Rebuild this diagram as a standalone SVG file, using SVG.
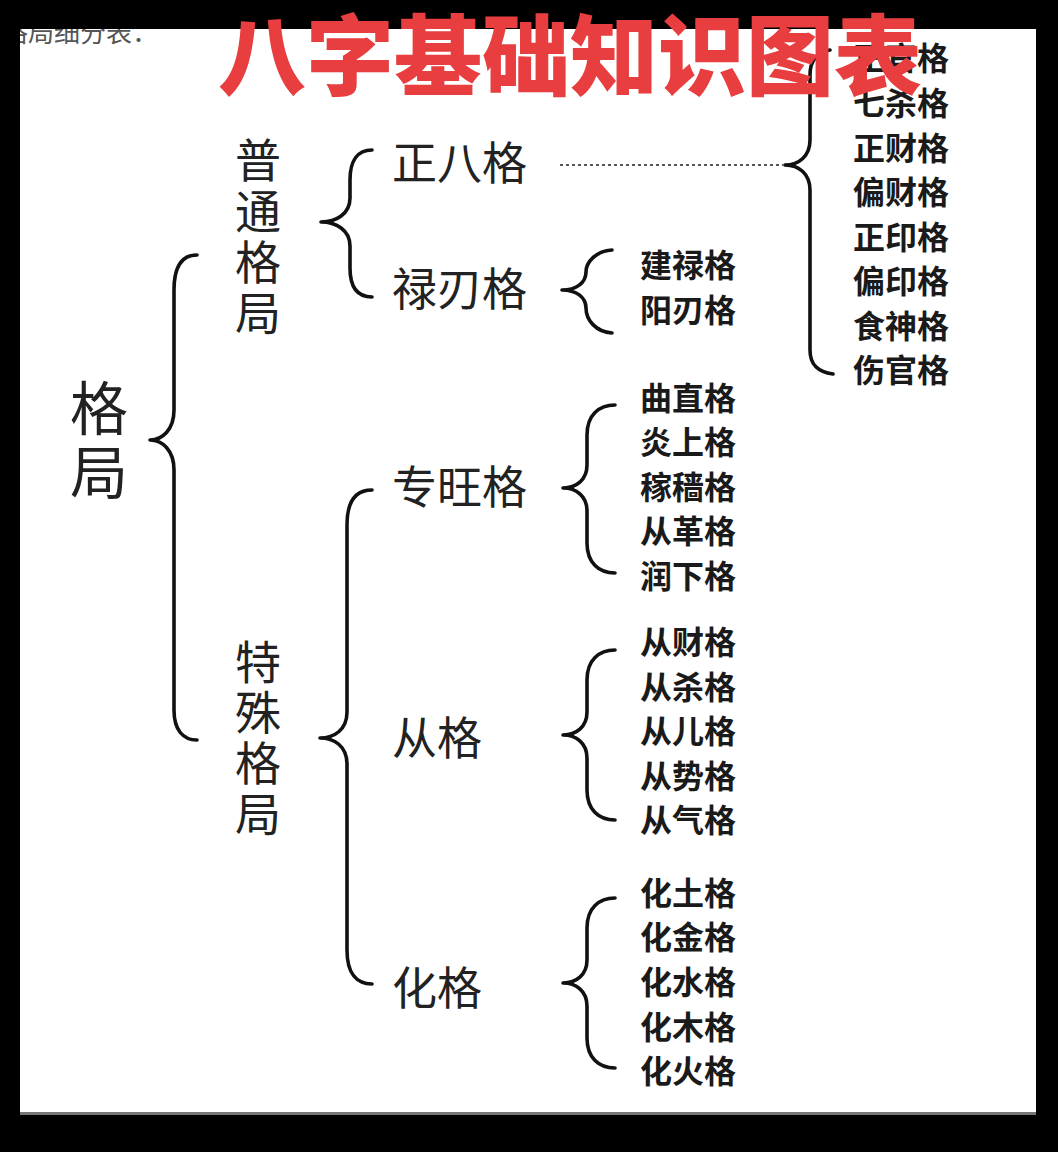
<svg xmlns="http://www.w3.org/2000/svg" width="1058" height="1152" viewBox="0 0 1058 1152">
  <style>
    .lv { font-family: "Noto Sans CJK SC", "Noto Sans", sans-serif; font-weight: 400; fill: #222; }
    .leaf { font-family: "Noto Sans CJK SC", "Noto Sans", sans-serif; font-weight: 700; font-size: 32px; fill: #1a1a1a; }
    .brace { fill: none; stroke: #111; stroke-width: 3.6; stroke-linecap: round; stroke-linejoin: round; }
    .dots { fill: none; stroke: #555; stroke-width: 2; stroke-dasharray: 3 3; }
    .title { font-family: "Noto Sans CJK SC", sans-serif; font-weight: 900; font-size: 88px; fill: #e83e3f; }
  </style>
  <defs>
    <clipPath id="panel"><rect x="20" y="29" width="1016" height="1083"/></clipPath>
  </defs>
  <rect x="0" y="0" width="1058" height="1152" fill="#000"/>
  <rect x="20" y="29" width="1016" height="1083" fill="#fff"/>
  <rect x="20" y="1112" width="1016" height="3" fill="#777"/>
  <text x="158" y="42" font-family="Noto Sans CJK SC, sans-serif" font-size="26" fill="#555" text-anchor="end" clip-path="url(#panel)">格局细分表：</text>

  <g id="connectors">
    <path class="brace" d="M197,255 C183,255 174,265 174,290 L174,410 C174,430 162,440 150,440 C162,440 174,450 174,470 L174,710 C174,730 183,740 197,740"/>
    <path class="brace" d="M372,150 C358,150 350,160 350,180 L350,198 C350,214 336,222 321,222 C336,222 350,230 350,246 L350,268 C350,288 358,297 372,297"/>
    <path class="brace" d="M372,490 C357,490 347,500 347,525 L347,712 C347,730 334,738 320,738 C334,738 347,746 347,764 L347,950 C347,974 357,984 372,984"/>
    <path class="brace" d="M612,250 C596,251 586,262 586,272 C586,283 576,290 562,290 C576,290 586,297 586,308 C586,320 596,332 612,333"/>
    <path class="brace" d="M615,405 C599,405 587,415 587,435 L587,465 C587,480 576,488 563,488 C576,488 587,496 587,511 L587,543 C587,563 599,573 615,573"/>
    <path class="brace" d="M615,650 C599,650 587,660 587,680 L587,712 C587,727 576,735 563,735 C576,735 587,743 587,758 L587,790 C587,810 599,820 615,820"/>
    <path class="brace" d="M615,898 C599,898 587,908 587,928 L587,960 C587,975 576,983 563,983 C576,983 587,991 587,1006 L587,1038 C587,1058 599,1068 615,1068"/>
    <path class="brace" d="M830,50 C818,52 810,60 810,75 L810,140 C810,156 799,165 785,165 C799,165 810,174 810,190 L810,350 C810,365 818,372 833,374"/>
    <line class="dots" x1="560" y1="165" x2="783" y2="165"/>
  </g>

  <g id="node-geju">
    <text class="lv" x="99" y="430" font-size="58" text-anchor="middle">格</text>
    <text class="lv" x="99" y="494" font-size="58" text-anchor="middle">局</text>
  </g>
  <g id="node-putong">
    <text class="lv" x="258" y="177" font-size="46" text-anchor="middle">普</text>
    <text class="lv" x="258" y="228" font-size="46" text-anchor="middle">通</text>
    <text class="lv" x="258" y="279" font-size="46" text-anchor="middle">格</text>
    <text class="lv" x="258" y="330" font-size="46" text-anchor="middle">局</text>
  </g>
  <g id="node-teshu">
    <text class="lv" x="258" y="679" font-size="46" text-anchor="middle">特</text>
    <text class="lv" x="258" y="729" font-size="46" text-anchor="middle">殊</text>
    <text class="lv" x="258" y="780" font-size="46" text-anchor="middle">格</text>
    <text class="lv" x="258" y="831" font-size="46" text-anchor="middle">局</text>
  </g>
  <g id="node-zhengba"><text class="lv" x="392" y="180" font-size="45">正八格</text></g>
  <g id="node-luren"><text class="lv" x="392" y="306" font-size="45">禄刃格</text></g>
  <g id="node-zhuanwang"><text class="lv" x="392" y="504" font-size="45">专旺格</text></g>
  <g id="node-cong"><text class="lv" x="392" y="755" font-size="45">从格</text></g>
  <g id="node-hua"><text class="lv" x="392" y="1005" font-size="45">化格</text></g>

  <g id="node-shishen">
    <text class="leaf" x="853" y="70">正官格</text>
    <text class="leaf" x="853" y="115">七杀格</text>
    <text class="leaf" x="853" y="160">正财格</text>
    <text class="leaf" x="853" y="204">偏财格</text>
    <text class="leaf" x="853" y="249">正印格</text>
    <text class="leaf" x="853" y="293">偏印格</text>
    <text class="leaf" x="853" y="338">食神格</text>
    <text class="leaf" x="853" y="382">伤官格</text>
  </g>
  <g id="node-luren-sub">
    <text class="leaf" x="640" y="277">建禄格</text>
    <text class="leaf" x="640" y="322">阳刃格</text>
  </g>
  <g id="node-zhuanwang-sub">
    <text class="leaf" x="640" y="410">曲直格</text>
    <text class="leaf" x="640" y="454">炎上格</text>
    <text class="leaf" x="640" y="499">稼穑格</text>
    <text class="leaf" x="640" y="543">从革格</text>
    <text class="leaf" x="640" y="588">润下格</text>
  </g>
  <g id="node-cong-sub">
    <text class="leaf" x="640" y="654">从财格</text>
    <text class="leaf" x="640" y="699">从杀格</text>
    <text class="leaf" x="640" y="743">从儿格</text>
    <text class="leaf" x="640" y="788">从势格</text>
    <text class="leaf" x="640" y="832">从气格</text>
  </g>
  <g id="node-hua-sub">
    <text class="leaf" x="640" y="905">化土格</text>
    <text class="leaf" x="640" y="949">化金格</text>
    <text class="leaf" x="640" y="994">化水格</text>
    <text class="leaf" x="640" y="1039">化木格</text>
    <text class="leaf" x="640" y="1083">化火格</text>
  </g>

  <g id="title">
    <text class="title" x="570" y="88" text-anchor="middle">八字基础知识图表</text>
  </g>
</svg>
